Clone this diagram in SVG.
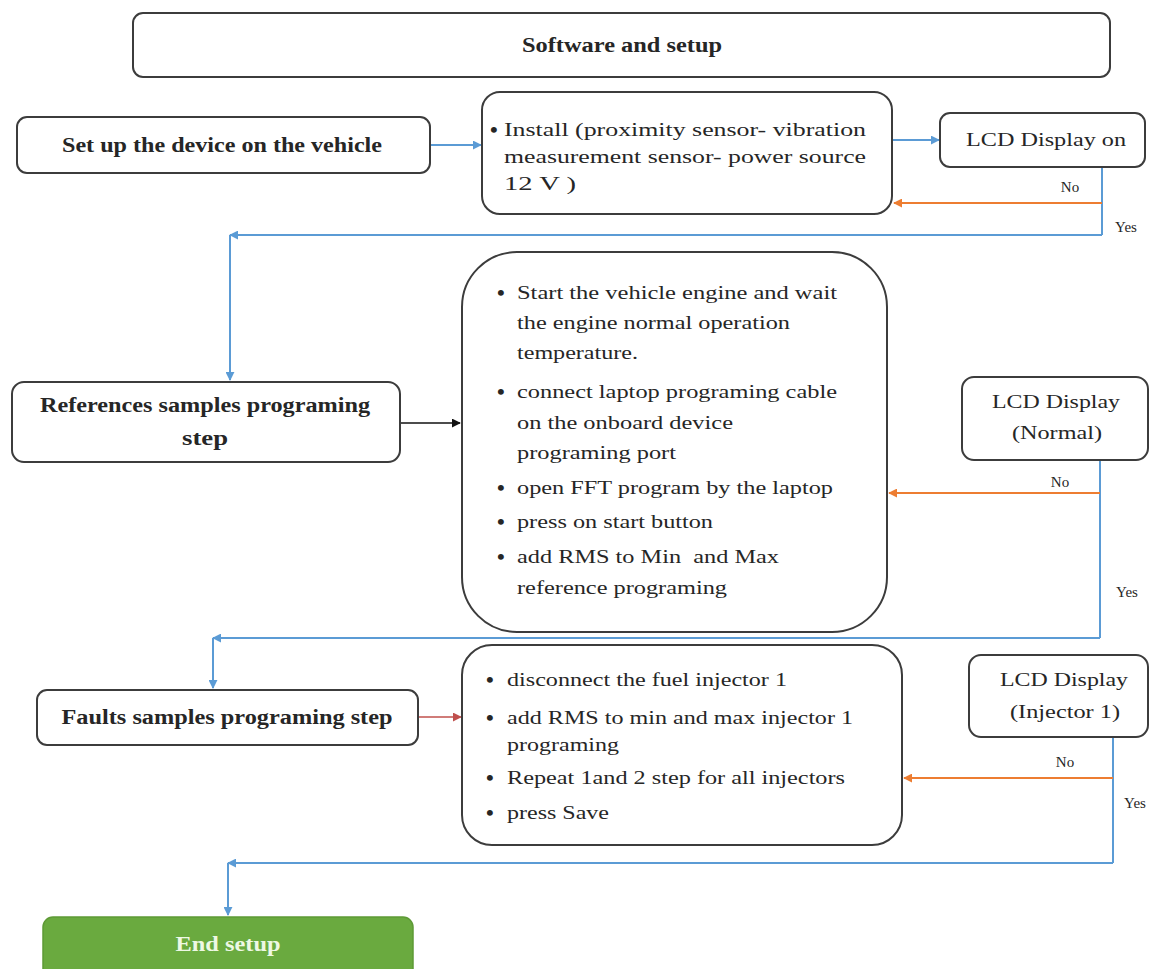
<svg xmlns="http://www.w3.org/2000/svg" width="1157" height="969" viewBox="0 0 1157 969">
<style>
.box{fill:#fff;stroke:#3c3c3c;stroke-width:2}
.t{font-family:"Liberation Serif","Times New Roman",serif;font-size:19px;fill:#262626}
.bu{font-family:"Liberation Serif","Times New Roman",serif;font-size:22px;font-weight:bold;fill:#262626}
.b{font-family:"Liberation Serif","Times New Roman",serif;font-size:20px;font-weight:bold;fill:#262626}
.s{font-family:"Liberation Serif","Times New Roman",serif;font-size:15px;fill:#262626}
.blue{stroke:#5b9bd5;stroke-width:2;fill:none}
.orange{stroke:#ed7d31;stroke-width:2;fill:none}
.red{stroke:#c0504d;stroke-width:1.6;fill:none}
.black{stroke:#111;stroke-width:1.6;fill:none}
</style>
<defs>
<marker id="aB" viewBox="0 0 10 10" refX="9" refY="5" markerWidth="9" markerHeight="9" markerUnits="userSpaceOnUse" orient="auto"><path d="M0,0 L10,5 L0,10 z" fill="#5b9bd5"/></marker>
<marker id="aO" viewBox="0 0 10 10" refX="9" refY="5" markerWidth="9" markerHeight="9" markerUnits="userSpaceOnUse" orient="auto"><path d="M0,0 L10,5 L0,10 z" fill="#ed7d31"/></marker>
<marker id="aR" viewBox="0 0 10 10" refX="9" refY="5" markerWidth="9" markerHeight="9" markerUnits="userSpaceOnUse" orient="auto"><path d="M0,0 L10,5 L0,10 z" fill="#c0504d"/></marker>
<marker id="aK" viewBox="0 0 10 10" refX="9" refY="5" markerWidth="9" markerHeight="9" markerUnits="userSpaceOnUse" orient="auto"><path d="M0,0 L10,5 L0,10 z" fill="#111"/></marker>
</defs>
<rect width="1157" height="969" fill="#fff"/>

<g id="connectors">
<line class="blue" x1="430" y1="145" x2="481" y2="145" marker-end="url(#aB)"/>
<line class="blue" x1="892" y1="140" x2="939" y2="140" marker-end="url(#aB)"/>
<line class="blue" x1="1102" y1="167" x2="1102" y2="235"/>
<line class="orange" x1="1102" y1="203" x2="894" y2="203" marker-end="url(#aO)"/>
<line class="blue" x1="1102" y1="235" x2="230" y2="235" marker-end="url(#aB)"/>
<line class="blue" x1="230" y1="235" x2="230" y2="380" marker-end="url(#aB)"/>
<line class="black" x1="400" y1="423" x2="460" y2="423" marker-end="url(#aK)"/>
<line class="blue" x1="1100" y1="460" x2="1100" y2="638"/>
<line class="orange" x1="1100" y1="493" x2="889" y2="493" marker-end="url(#aO)"/>
<line class="blue" x1="1100" y1="638" x2="213" y2="638" marker-end="url(#aB)"/>
<line class="blue" x1="213" y1="638" x2="213" y2="688" marker-end="url(#aB)"/>
<line class="red" x1="418" y1="717" x2="461" y2="717" marker-end="url(#aR)"/>
<line class="blue" x1="1113" y1="737" x2="1113" y2="863"/>
<line class="orange" x1="1113" y1="778" x2="904" y2="778" marker-end="url(#aO)"/>
<line class="blue" x1="1113" y1="863" x2="228" y2="863" marker-end="url(#aB)"/>
<line class="blue" x1="228" y1="863" x2="228" y2="915" marker-end="url(#aB)"/>
<text class="s" x="1070" y="192" text-anchor="middle">No</text>
<text class="s" x="1126" y="232" text-anchor="middle">Yes</text>
<text class="s" x="1060" y="487" text-anchor="middle">No</text>
<text class="s" x="1127" y="597" text-anchor="middle">Yes</text>
<text class="s" x="1065" y="767" text-anchor="middle">No</text>
<text class="s" x="1135" y="808" text-anchor="middle">Yes</text>
</g>

<g id="software">
<rect class="box" x="133" y="13" width="977" height="64" rx="10"/>
<text class="b" x="622" y="52" text-anchor="middle" textLength="200" lengthAdjust="spacingAndGlyphs">Software and setup</text>
</g>

<g id="setup-device">
<rect class="box" x="17" y="117" width="413" height="56" rx="10"/>
<text class="b" x="222" y="152" text-anchor="middle" textLength="320" lengthAdjust="spacingAndGlyphs">Set up the device on the vehicle</text>
</g>

<g id="install">
<rect class="box" x="482" y="92" width="410" height="122" rx="18"/>
<text class="bu" x="490" y="137">•</text>
<text class="t" x="504" y="136" textLength="362" lengthAdjust="spacingAndGlyphs">Install (proximity sensor- vibration</text>
<text class="t" x="504" y="163" textLength="362" lengthAdjust="spacingAndGlyphs">measurement sensor- power source</text>
<text class="t" x="504" y="190" textLength="72" lengthAdjust="spacingAndGlyphs">12 V )</text>
</g>

<g id="lcd-on">
<rect class="box" x="940" y="113" width="205" height="54" rx="10"/>
<text class="t" x="1046" y="146" text-anchor="middle" textLength="160" lengthAdjust="spacingAndGlyphs">LCD Display on</text>
</g>

<g id="references">
<rect class="box" x="12" y="382" width="388" height="80" rx="12"/>
<text class="b" x="205" y="412" text-anchor="middle" textLength="330" lengthAdjust="spacingAndGlyphs">References samples programing</text>
<text class="b" x="205" y="445" text-anchor="middle" textLength="46" lengthAdjust="spacingAndGlyphs">step</text>
</g>

<g id="reference-steps">
<rect class="box" x="462" y="252" width="425" height="380" rx="55"/>
<text class="bu" x="497" y="300">•</text>
<text class="t" x="517" y="299" textLength="320" lengthAdjust="spacingAndGlyphs">Start the vehicle engine and wait</text>
<text class="t" x="517" y="329" textLength="273" lengthAdjust="spacingAndGlyphs">the engine normal operation</text>
<text class="t" x="517" y="359" textLength="121" lengthAdjust="spacingAndGlyphs">temperature.</text>
<text class="bu" x="497" y="399">•</text>
<text class="t" x="517" y="398" textLength="320" lengthAdjust="spacingAndGlyphs">connect laptop programing cable</text>
<text class="t" x="517" y="429" textLength="216" lengthAdjust="spacingAndGlyphs">on the onboard device</text>
<text class="t" x="517" y="459" textLength="159" lengthAdjust="spacingAndGlyphs">programing port</text>
<text class="bu" x="497" y="495">•</text>
<text class="t" x="517" y="494" textLength="316" lengthAdjust="spacingAndGlyphs">open FFT program by the laptop</text>
<text class="bu" x="497" y="529">•</text>
<text class="t" x="517" y="528" textLength="196" lengthAdjust="spacingAndGlyphs">press on start button</text>
<text class="bu" x="497" y="564">•</text>
<text class="t" x="517" y="563" textLength="262" lengthAdjust="spacingAndGlyphs" xml:space="preserve">add RMS to Min  and Max</text>
<text class="t" x="517" y="594" textLength="210" lengthAdjust="spacingAndGlyphs">reference programing</text>
</g>

<g id="lcd-normal">
<rect class="box" x="962" y="377" width="186" height="83" rx="12"/>
<text class="t" x="1056" y="408" text-anchor="middle" textLength="128" lengthAdjust="spacingAndGlyphs">LCD Display</text>
<text class="t" x="1057" y="439" text-anchor="middle" textLength="90" lengthAdjust="spacingAndGlyphs">(Normal)</text>
</g>

<g id="faults">
<rect class="box" x="37" y="690" width="381" height="55" rx="10"/>
<text class="b" x="227" y="724" text-anchor="middle" textLength="331" lengthAdjust="spacingAndGlyphs">Faults samples programing step</text>
</g>

<g id="fault-steps">
<rect class="box" x="462" y="645" width="440" height="200" rx="30"/>
<text class="bu" x="486" y="687">•</text>
<text class="t" x="507" y="686" textLength="280" lengthAdjust="spacingAndGlyphs">disconnect the fuel injector 1</text>
<text class="bu" x="486" y="725">•</text>
<text class="t" x="507" y="724" textLength="346" lengthAdjust="spacingAndGlyphs">add RMS to min and max injector 1</text>
<text class="t" x="507" y="751" textLength="112" lengthAdjust="spacingAndGlyphs">programing</text>
<text class="bu" x="486" y="785">•</text>
<text class="t" x="507" y="784" textLength="338" lengthAdjust="spacingAndGlyphs">Repeat 1and 2 step for all injectors</text>
<text class="bu" x="486" y="820">•</text>
<text class="t" x="507" y="819" textLength="102" lengthAdjust="spacingAndGlyphs">press Save</text>
</g>

<g id="lcd-injector">
<rect class="box" x="969" y="655" width="179" height="82" rx="12"/>
<text class="t" x="1064" y="686" text-anchor="middle" textLength="128" lengthAdjust="spacingAndGlyphs">LCD Display</text>
<text class="t" x="1065" y="718" text-anchor="middle" textLength="110" lengthAdjust="spacingAndGlyphs">(Injector 1)</text>
</g>

<g id="end-setup">
<rect x="43" y="917" width="370" height="70" rx="10" fill="#6aaa3f" stroke="#5e9a36" stroke-width="1.5"/>
<text class="b" x="228" y="951" text-anchor="middle" textLength="105" lengthAdjust="spacingAndGlyphs" style="fill:#eef8e4">End setup</text>
</g>
</svg>
